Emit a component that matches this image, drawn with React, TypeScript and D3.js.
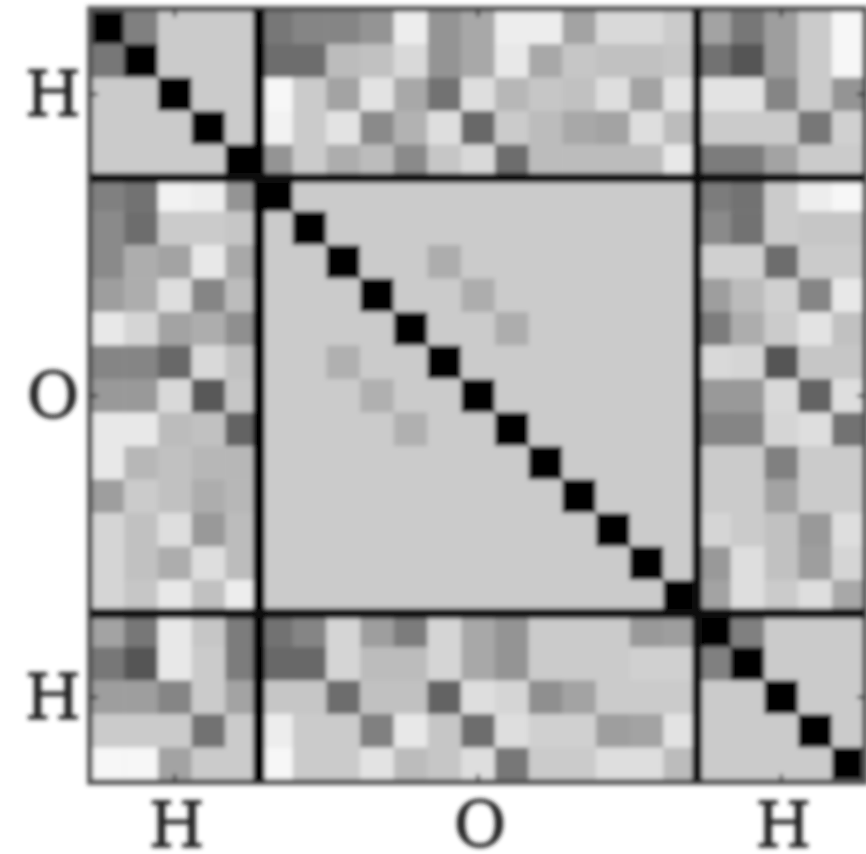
import React from "react";
import * as d3 from "d3";

// Matrix cell values: grey level of each cell (0 = darkest)
const greyRows: number[][] = [
  [0,130,205,205,205, 120,135,135,150,240,150,170,240,240,165,220,220,205, 165,120,160,205,250],
  [120,0,205,205,205, 110,110,190,195,220,150,170,235,170,200,195,195,200, 115,85,160,205,250],
  [205,205,0,205,205, 250,205,165,230,170,115,225,185,200,195,225,165,230, 230,230,135,205,150],
  [205,205,205,0,205, 245,205,230,140,180,225,105,205,190,170,165,225,190, 205,205,205,120,210],
  [205,205,205,205,0, 150,205,175,190,140,200,220,110,190,190,190,190,235, 125,125,165,205,205],
  [130,115,245,240,150, 0,205,205,205,205,205,205,205,205,205,205,205,205, 125,115,205,240,250],
  [140,110,205,205,200, 205,0,205,205,205,205,205,205,205,205,205,205,205, 140,115,205,200,200],
  [140,175,165,235,170, 205,205,0,205,205,175,205,205,205,205,205,205,205, 210,210,110,205,205],
  [160,175,225,135,190, 205,205,205,0,205,205,175,205,205,205,205,205,205, 160,190,210,135,235],
  [235,215,165,175,145, 205,205,205,205,0,205,205,175,205,205,205,205,205, 125,175,205,230,195],
  [135,135,105,220,195, 205,205,178,205,205,0,205,205,205,205,205,205,205, 220,215,85,200,200],
  [155,155,220,90,200, 205,205,205,178,205,205,0,205,205,205,205,205,205, 155,155,220,100,225],
  [235,235,190,195,100, 205,205,205,205,178,205,205,0,205,205,205,205,205, 135,135,215,225,115],
  [235,185,195,185,185, 205,205,205,205,205,205,205,205,0,205,205,205,205, 205,205,130,205,205],
  [160,205,195,175,185, 205,205,205,205,205,205,205,205,205,0,205,205,205, 205,205,165,205,205],
  [215,195,225,155,190, 205,205,205,205,205,205,205,205,205,205,0,205,205, 215,205,195,155,225],
  [215,195,175,225,190, 205,205,205,205,205,205,205,205,205,205,205,0,205, 155,225,195,160,215],
  [215,200,235,195,240, 205,205,205,205,205,205,205,205,205,205,205,205,0, 165,225,205,225,170],
  [165,120,235,200,125, 115,135,215,160,125,215,170,150,205,205,205,155,160, 0,130,205,205,205],
  [120,85,235,205,125, 105,105,215,190,190,215,170,150,205,205,205,210,210, 130,0,205,205,205],
  [160,160,135,205,165, 200,200,110,195,195,100,225,215,145,165,205,205,205, 205,205,0,205,205],
  [205,205,205,115,205, 240,205,205,130,235,200,110,225,210,210,160,165,230, 205,205,205,0,205],
  [250,250,165,205,205, 250,205,205,230,190,200,225,120,205,205,225,225,190, 205,205,205,205,0],
];
const blockLabels = ["H", "O", "H"];
const blockSizes = [5, 13, 5];

const cells = d3.range(23);
const x = d3.scaleBand<number>().domain(cells).range([90.5, 865.6]);
const y = d3.scaleBand<number>().domain(cells).range([10.5, 781]);
const grey = d3.scaleLinear<string>().domain([0, 258]).range(["#000", "#fff"]);

const offsets = Array.from(d3.cumsum(blockSizes));
const inner = offsets.slice(0, -1);
const centers = blockSizes.map((s, i) => (i === 0 ? 0 : offsets[i - 1]) + s / 2);
const px = (c: number) => 90.5 + c * x.bandwidth();
const py = (c: number) => 10.5 + c * y.bandwidth();

export default function App() {
  return (
    <svg width={866} height={854} style={{ position: "absolute", left: 0, top: 0 }}>
      <defs>
        <filter id="soft" filterUnits="userSpaceOnUse" x={0} y={0} width={866} height={854}>
          <feGaussianBlur stdDeviation={2.2} />
        </filter>
      </defs>
      <rect width={866} height={854} fill="#fff" />
      <g filter="url(#soft)">
        <rect x={89} y={8} width={777} height={774} fill={grey(205)} />
        {greyRows.map((row, r) =>
          row.map((v, c) => (
            <rect key={`${r}-${c}`} x={x(c)} y={y(r)} width={x.bandwidth() + 0.3} height={y.bandwidth() + 0.3} fill={grey(v)} />
          ))
        )}
        <rect x={90} y={9} width={775} height={773} fill="none" stroke="#555" strokeWidth={6} />
        {centers.map((c) => (
          <g key={c}>
            <line x1={px(c)} x2={px(c)} y1={9} y2={17} stroke="#333" strokeWidth={3} />
            <line x1={px(c)} x2={px(c)} y1={774} y2={782} stroke="#333" strokeWidth={3} />
            <line y1={py(c)} y2={py(c)} x1={90} x2={98} stroke="#333" strokeWidth={3} />
            <line y1={py(c)} y2={py(c)} x1={857} x2={865} stroke="#333" strokeWidth={3} />
          </g>
        ))}
        {inner.map((c, i) => (
          <g key={c}>
            <rect x={px(c) - (i === 0 ? 6 : 5)} width={i === 0 ? 12 : 10} y={9} height={773} fill={i === 0 ? "#000" : "#111"} />
            <rect x={90} width={775} y={py(c) - 5} height={10} fill="#0a0a0a" />
          </g>
        ))}
        {blockLabels.map((t, i) => (
          <g key={i} fontFamily="'DejaVu Serif'" fontSize={64} fill="#222" stroke="#222" strokeWidth={1} textAnchor="middle">
            <text x={53} y={py(centers[i]) + 22}>{t}</text>
            <text x={px(centers[i]) + 2} y={847}>{t}</text>
          </g>
        ))}
      </g>
    </svg>
  );
}
